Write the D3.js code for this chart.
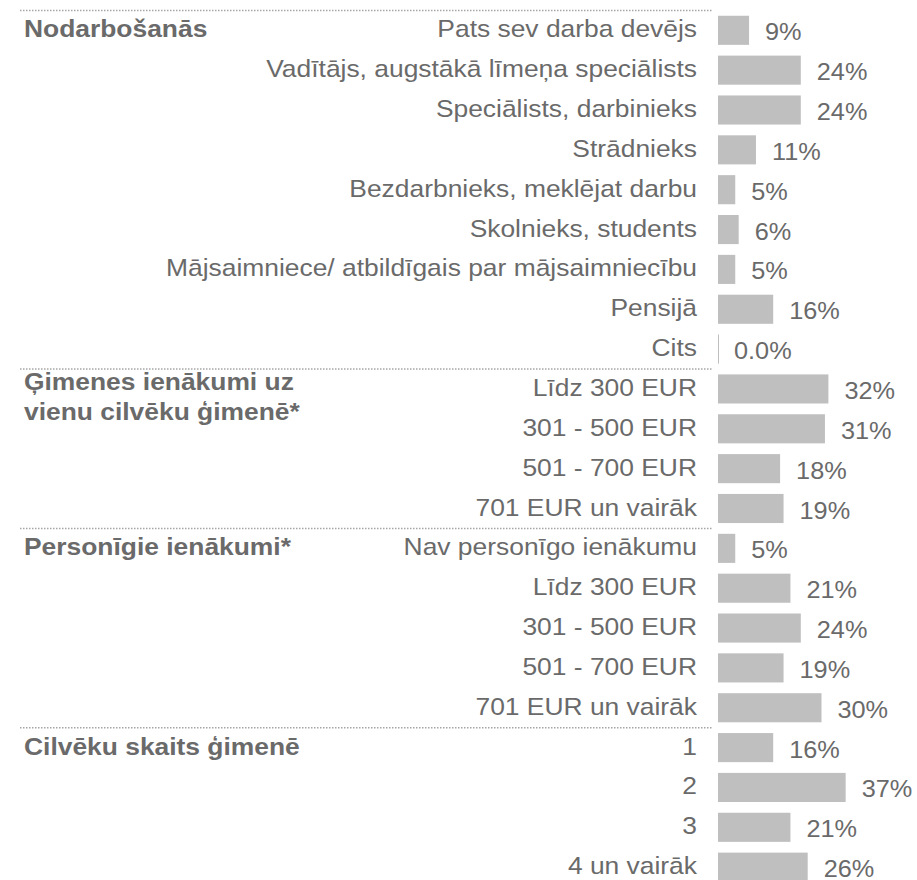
<!DOCTYPE html>
<html>
<head>
<meta charset="utf-8">
<script src="https://cdnjs.cloudflare.com/ajax/libs/d3/7.8.5/d3.min.js"></script>
<style>
    body { margin: 0; background: #fff; }
    svg text { font-family: "Liberation Sans", Arial, sans-serif; }
</style>
</head>
<body>
<div id="figure"></div>
<script>
// section titles (one or two lines) and how many rows each covers
var groupTitles = [
    ["Nodarbošanās"],
    ["Ģimenes ienākumi uz", "vienu cilvēku ģimenē*"],
    ["Personīgie ienākumi*"],
    ["Cilvēku skaits ģimenē"]
];
var groupSizes = [9, 4, 5, 4];

var categories = [
    "Pats sev darba devējs",
    "Vadītājs, augstākā līmeņa speciālists",
    "Speciālists, darbinieks",
    "Strādnieks",
    "Bezdarbnieks, meklējat darbu",
    "Skolnieks, students",
    "Mājsaimniece/ atbildīgais par mājsaimniecību",
    "Pensijā",
    "Cits",
    "Līdz 300 EUR",
    "301 - 500 EUR",
    "501 - 700 EUR",
    "701 EUR un vairāk",
    "Nav personīgo ienākumu",
    "Līdz 300 EUR",
    "301 - 500 EUR",
    "501 - 700 EUR",
    "701 EUR un vairāk",
    "1",
    "2",
    "3",
    "4 un vairāk"
];
var values = [9, 24, 24, 11, 5, 6, 5, 16, 0, 32, 31, 18, 19, 5, 21, 24, 19, 30, 16, 37, 21, 26];
var valueLabels = ["9%", "24%", "24%", "11%", "5%", "6%", "5%", "16%", "0.0%", "32%", "31%", "18%", "19%",
    "5%", "21%", "24%", "19%", "30%", "16%", "37%", "21%", "26%"];

var w = 917;
var h = 880;
var stretch = 1.1; // text in the original is drawn a bit wider than tall
var textColor = "#6a6a6a";
var barColor = "#bfbfbf";

var svg = d3.select("#figure")
    .append("svg")
    .attr("width", w)
    .attr("height", h);

var xScale = d3.scaleLinear()
    .domain([0, 37])
    .range([718, 718 + 37 * 3.45]);

var rowStep = 39.85;
var yScale = d3.scaleBand()
    .domain(d3.range(categories.length))
    .range([30.3 - rowStep / 2, 30.3 - rowStep / 2 + rowStep * categories.length])
    .paddingInner(0.27)
    .paddingOuter(0.135);

function rowCenter(i) {
    return yScale(i) + yScale.bandwidth() / 2;
}

function stretchedText(x, y, str, size) {
    return svg.append("text")
        .attr("transform", "translate(" + x + "," + y + ") scale(" + stretch + ",1)")
        .attr("fill", textColor)
        .style("font-size", size + "px")
        .text(str);
}

// bars
svg.selectAll("rect.bar")
    .data(values)
    .enter()
    .append("rect")
    .attr("class", "bar")
    .attr("x", xScale(0))
    .attr("y", function(d, i) { return yScale(i); })
    .attr("width", function(d) { return Math.max(1, xScale(d) - xScale(0)); })
    .attr("height", yScale.bandwidth())
    .attr("fill", barColor);

// category labels
categories.forEach(function(c, i) {
    stretchedText(697, rowCenter(i) + 7, c, 24).attr("text-anchor", "end");
});

// value labels
values.forEach(function(v, i) {
    stretchedText(xScale(v) + 16, rowCenter(i) + 10, valueLabels[i], 23);
});

// section separators and titles
var start = 0;
groupSizes.forEach(function(n, g) {
    var ySep = rowCenter(start) - rowStep / 2;
    svg.append("line")
        .attr("x1", 20)
        .attr("x2", 713)
        .attr("y1", ySep)
        .attr("y2", ySep)
        .attr("stroke", "#a6a6a6")
        .attr("stroke-width", 1.5)
        .attr("stroke-dasharray", "1.5,1.5");
    var lines = groupTitles[g];
    var shift = (lines.length - 1) * 6;
    lines.forEach(function(t, k) {
        stretchedText(24, rowCenter(start) + 7 - shift + k * 30, t, 24)
            .attr("font-weight", "bold");
    });
    start += n;
});
</script>
</body>
</html>
